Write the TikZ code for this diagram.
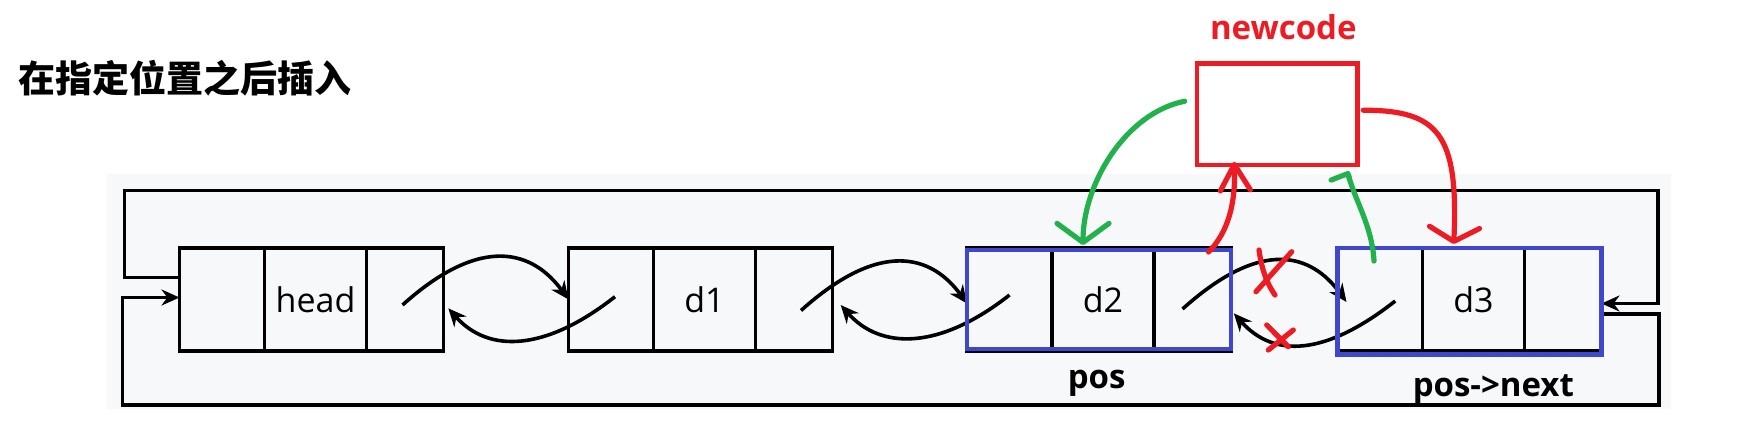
\documentclass[tikz,border=0pt]{standalone}
\usepackage{fontspec}
\setmainfont{Open Sans}
\newfontfamily\cjk{Noto Sans CJK SC}
\usepackage{xcolor}
\usepackage{tikz}
\usetikzlibrary{positioning,arrows.meta}

\definecolor{panel}{RGB}{247,248,250}
\definecolor{posblue}{RGB}{63,72,204}
\definecolor{mred}{RGB}{237,28,36}
\definecolor{mgreen}{RGB}{34,177,76}

\begin{document}
\begin{tikzpicture}[x=0.5pt, y=-0.5pt,
	cell/.style = {draw, line width=1.8pt, minimum height=51.5pt, inner sep=0pt, outer sep=0pt, font=\fontsize{17}{19}\selectfont},
	link/.style = {line width=1.8pt, -{Stealth[length=9pt, width=8pt]}},
	posbox/.style = {draw=posblue, line width=2.3pt},
	newbox/.style = {draw=mred, line width=2.2pt, minimum width=80.3pt, minimum height=50.8pt, inner sep=0pt, outer sep=0pt},
	hand/.style = {line width=2.6pt, line cap=round, line join=round},
	lbl/.style = {font=\bfseries\fontsize{16.5}{18}\selectfont, anchor=base, inner sep=0pt}]
	\useasboundingbox (0,0) rectangle (1738,435);
	\fill [panel] (106.7,173.5) rectangle (1671,409);

	\node [font=\cjk\bfseries\fontsize{18.5}{20}\selectfont, anchor=base, inner sep=0pt] (title) at (185,92) {在指定位置之后插入};

	\foreach \nm/\xx in {head/179.5, d1/568.5, d2/967, d3/1337.5}{
		\node [cell, minimum width=42.5pt, anchor=west] (\nm-l) at (\xx,299.5) {};
		\node [cell, minimum width=51pt, right=0pt of \nm-l] (\nm) {\nm};
		\node [cell, minimum width=38.5pt, right=0pt of \nm] (\nm-r) {};
	}

	\draw [link] ([yshift=11pt]head-l.west) -| ++(-55,-87) -| ([xshift=28.3pt, yshift=-2pt]d3-r.east) -- ([yshift=-2pt]d3-r.east);
	\draw [link] ([yshift=-7.25pt]d3-r.east) -| ++(57.5,91) -| ([xshift=-28.5pt, yshift=1pt]head-l.west) -- ([yshift=1pt]head-l.west);

	\draw [link] ([xshift=-1.25pt, yshift=-2.75pt]head-r.center) .. controls +(80,-72) and +(-35,-48) .. (d1-l.west);
	\draw [link] ([xshift=3.5pt, yshift=-5.5pt]d1-r.center) .. controls +(80,-72) and +(-35,-48) .. ([yshift=-2pt]d2-l.west);
	\draw [link] ([xshift=-5pt, yshift=-4.75pt]d2-r.center) .. controls +(80,-72) and +(-35,-48) .. ([xshift=4.5pt, yshift=-1.25pt]d3-l.west);

	\draw [link] ([xshift=2pt, yshift=1.4pt]d1-l.center) .. controls +(-70,55) and +(40,45) .. ([xshift=2.4pt, yshift=-4.4pt]head-r.east);
	\draw [link] ([yshift=2.25pt]d2-l.center) .. controls +(-70,55) and +(40,45) .. ([xshift=4.1pt, yshift=-2.75pt]d1-r.east);
	\draw [link] ([xshift=7.6pt, yshift=-0.75pt]d3-l.center) .. controls +(-70,55) and +(40,45) .. ([xshift=1.4pt, yshift=-6.9pt]d2-r.east);

	\draw [posbox] ([yshift=-1pt]d2-l.north west) rectangle ([yshift=1pt]d2-r.south east);
	\draw [posbox] (d3-l.north west) rectangle ([yshift=-1.65pt]d3-r.south east);
	\node [lbl] (pos) at (1096.7,388.3) {pos};
	\node [lbl] (posnext) at (1493.3,396) {pos->next};

	\node [newbox] (newcode) at (1277,114.2) {};
	\node [lbl, text=mred] (newlbl) at (1283.3,39.3) {newcode};

	\draw [hand, mgreen, -{Straight Barb[round, length=9.5pt, width=26pt]}] ([xshift=-6pt, yshift=6.5pt]newcode.west) .. controls +(-60,12) and +(0,-60) .. ([xshift=-10pt, yshift=1.5pt]d2.north);
	\draw [hand, mred, -{Straight Barb[round, length=13pt, width=15pt]}] ([xshift=8pt, yshift=-2pt]d2-r.north) .. controls +(15,-15) and +(2,50) .. ([xshift=-21.4pt, yshift=1.6pt]newcode.south);
	\draw [hand, mgreen, -{Straight Barb[round, left, length=1pt, width=18pt]}] ([xshift=-3pt, yshift=-6.5pt]d3-l.north) .. controls +(-2,-35) and +(8,30) .. ([xshift=-5pt, yshift=-3pt]newcode.south east);
	\draw [hand, mred, -{Straight Barb[round, length=7pt, width=25pt]}] ([xshift=3pt, yshift=2pt]newcode.east) .. controls +(75,0) and +(5,-110) .. ([xshift=-9.9pt, yshift=2pt]d3.north);

	\draw [hand, mred] (1259,250) .. controls (1262,272) and (1268,285) .. (1275,295);
	\draw [hand, mred] (1291.7,251.7) -- (1256,291.7);
	\draw [hand, mred] (1266.7,325) -- (1288.3,346.7);
	\draw [hand, mred] (1293.3,330) -- (1268.3,350);
\end{tikzpicture}
\end{document}
